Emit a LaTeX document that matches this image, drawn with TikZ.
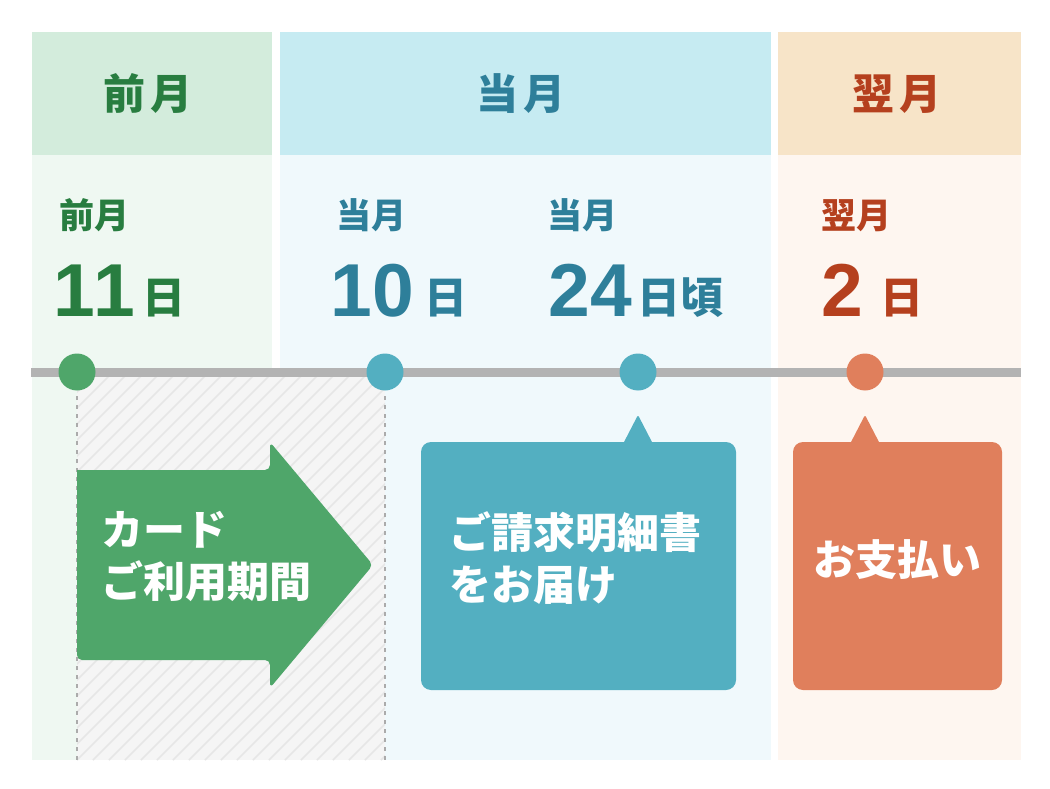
\documentclass[tikz,border=0pt]{standalone}
\usepackage{fontspec}
\newfontfamily\jp{Noto Sans CJK JP}
\newfontfamily\numfont{Liberation Sans}
\definecolor{greenHead}{HTML}{D3ECDC}
\definecolor{greenBody}{HTML}{EFF8F2}
\definecolor{blueHead}{HTML}{C6EBF2}
\definecolor{blueBody}{HTML}{F0F9FC}
\definecolor{orHead}{HTML}{F7E4C8}
\definecolor{orBody}{HTML}{FEF6F0}
\definecolor{greenText}{HTML}{287D40}
\definecolor{blueText}{HTML}{2E7F9A}
\definecolor{redText}{HTML}{B5401E}
\definecolor{greenFill}{HTML}{4FA66A}
\definecolor{blueFill}{HTML}{53AFC1}
\definecolor{orFill}{HTML}{E07F5C}
\definecolor{lineGray}{HTML}{B3B3B3}
\definecolor{hatchBg}{HTML}{F5F5F5}
\definecolor{hatchLine}{HTML}{E6E6E6}
\definecolor{dashGray}{HTML}{ABABAB}
\tikzset{
  panel/.style={draw=none, anchor=north west, inner sep=0pt},
  headtext/.style={anchor=base, font=\jp\bfseries\fontsize{42}{48}\selectfont},
  smalltext/.style={anchor=base west, font=\jp\bfseries\fontsize{35}{40}\selectfont},
  bignum/.style={anchor=base west, font=\numfont\bfseries\fontsize{75}{80}\selectfont},
  daytext/.style={anchor=base west, font=\jp\bfseries\fontsize{43}{48}\selectfont},
  whitetext/.style={anchor=north west, align=left, text=white, font=\jp\bfseries\fontsize{42}{52}\selectfont},
  dot/.style={circle, minimum size=37pt, inner sep=0pt},
  timeline/.style={draw=lineGray, line width=9pt},
  dashline/.style={draw=dashGray, line width=2.5pt, dash pattern=on 4pt off 5pt},
  callout/.style={rounded corners=10pt, anchor=north west, inner sep=0pt},
}
\begin{document}
\begin{tikzpicture}[x=1pt,y=-1pt, every node/.append style={outer sep=0pt}]
\useasboundingbox (0,0) rectangle (1050,789);
\fill[white] (0,0) rectangle (1050,789);
% panels
\node[panel, fill=greenHead, minimum width=240pt, minimum height=123pt] (h1) at (32,32) {};
\node[panel, fill=blueHead, minimum width=491pt, minimum height=123pt] (h2) at (280,32) {};
\node[panel, fill=orHead, minimum width=243pt, minimum height=123pt] (h3) at (778,32) {};
\node[panel, fill=greenBody, minimum width=240pt, minimum height=605pt] (b1) at (32,155) {};
\node[panel, fill=blueBody, minimum width=491pt, minimum height=605pt] (b2) at (280,155) {};
\node[panel, fill=orBody, minimum width=243pt, minimum height=605pt] (b3) at (778,155) {};
% hatched period
\fill[hatchBg] (77,376) rectangle (385,760);
\begin{scope}
  \clip (77,376) rectangle (385,760);
  \foreach \i in {-400,-384,...,320}
    \draw[hatchLine, line width=1.5pt] ({77+\i},760) -- ({77+\i+384},376);
\end{scope}
% header texts
\node[headtext, text=greenText] (t1) at (148,110) {前\hspace{6pt}月};
\node[headtext, text=blueText] (t2) at (521,110) {当\hspace{6pt}月};
\node[headtext, text=redText] (t3) at (897,110) {翌\hspace{6pt}月};
% date labels
\node[smalltext, text=greenText] (m1) at (56,229) {前月};
\node[smalltext, text=blueText] (m2) at (333,229) {当月};
\node[smalltext, text=blueText] (m3) at (544,229) {当月};
\node[smalltext, text=redText] (m4) at (818,229) {翌月};
\node[bignum, text=greenText] (n1) at (50,316) {1\kern-1.5pt 1};
\node[daytext, text=greenText] (e1) at (139,313) {日};
\node[bignum, text=blueText] (n2) at (327,316) {10};
\node[daytext, text=blueText] (e2) at (421,313) {日};
\node[bignum, text=blueText] (n3) at (545,316) {24};
\node[daytext, text=blueText] (e3) at (634,313) {日頃};
\node[bignum, text=redText] (n4) at (818,316) {2};
\node[daytext, text=redText] (e4) at (877,313) {日};
% dashed boundaries
\coordinate (v1a) at (77,396); \coordinate (v1b) at (77,760);
\coordinate (v2a) at (385,396); \coordinate (v2b) at (385,760);
\draw[dashline] (v1a) -- (v1b);
\draw[dashline] (v2a) -- (v2b);
% timeline
\coordinate (tl0) at (31,372); \coordinate (tl1) at (1021,372);
\draw[timeline] (tl0) -- (tl1);
\node[dot, fill=greenFill] (d1) at (77,372) {};
\node[dot, fill=blueFill] (d2) at (385,372) {};
\node[dot, fill=blueFill] (d3) at (638,372) {};
\node[dot, fill=orFill] (d4) at (865,372) {};
% arrow
\fill[greenFill, rounded corners=5pt] (77,470) -- (270,470) -- (270,442) -- (373,565) -- (270,688) -- (270,660) -- (77,660) [sharp corners] -- cycle;
\node[whitetext] (arrowtext) at (98,508) {カード\\ご利用期間};
% callouts
\node[callout, fill=blueFill, minimum width=315pt, minimum height=248pt] (bill) at (421,442) {};
\fill[blueFill, rounded corners=2pt] (623,444) -- (638,415) -- (653,444) -- cycle;
\node[whitetext] (billtext) at (446,508) {ご請求明細書\\をお届け};
\node[callout, fill=orFill, minimum width=209pt, minimum height=248pt] (pay) at (793,442) {};
\fill[orFill, rounded corners=2pt] (850,444) -- (865,415) -- (880,444) -- cycle;
\node[anchor=center, text=white, font=\jp\bfseries\fontsize{42}{52}\selectfont] (paytext) at (897,560) {お支払い};
\end{tikzpicture}
\end{document}
